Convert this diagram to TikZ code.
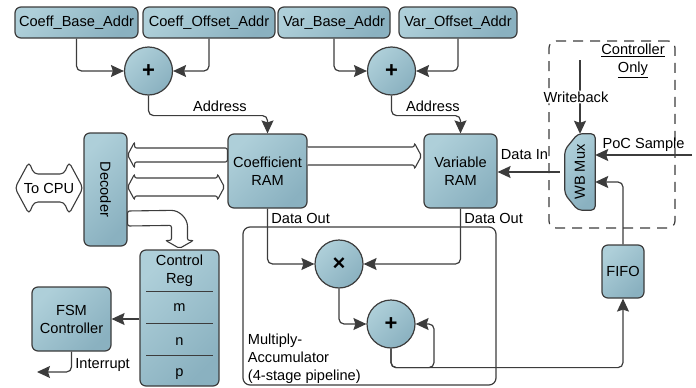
\documentclass[tikz,border=0pt]{standalone}
\usepackage{fontspec}
\setmainfont{Liberation Sans}
\usetikzlibrary{positioning, arrows.meta, calc, backgrounds}
\definecolor{boxlight}{HTML}{AECFD9}
\definecolor{boxdark}{HTML}{8AB1C0}
\definecolor{edge}{HTML}{3C3C3C}

\begin{document}
\begin{tikzpicture}[
  x=1pt, y=1pt,
  font=\fontsize{14.6}{18}\selectfont,
  box/.style={
    rectangle, rounded corners=6pt, draw=edge, line width=1.2pt,
    top color=boxlight, bottom color=boxdark, shading angle=45,
    align=center, inner sep=2pt
  },
  adder/.style={
    circle, draw=edge, line width=1.2pt, minimum size=48pt, inner sep=0pt,
    top color=boxlight, bottom color=boxdark, shading angle=45,
    font=\fontsize{22}{22}\selectfont\bfseries
  },
  region/.style={draw=edge, line width=1.2pt, rounded corners=7pt},
  arr/.style={-{Stealth[length=13pt, width=12pt, inset=2pt]}, line width=1.2pt,
    draw=edge, rounded corners=5pt},
  bus/.style={draw=edge, fill=white, line width=1.1pt, rounded corners=2pt},
  lbl/.style={text=black},
]
\useasboundingbox (0,0) rectangle (696,-388);

% address registers and adders
\node[box, minimum width=123pt, minimum height=31pt] (cba) at (76.5,-22.5) {Coeff\_Base\_Addr};
\node[box, minimum width=132pt, minimum height=31pt] (coa) at (209,-22.5) {Coeff\_Offset\_Addr};
\node[box, minimum width=112pt, minimum height=31pt] (vba) at (334,-22.5) {Var\_Base\_Addr};
\node[box, minimum width=118pt, minimum height=31pt] (voa) at (458,-22.5) {Var\_Offset\_Addr};
\node[adder] (add1) at (148.5,-71) {+};
\node[adder] (add2) at (391.5,-71) {+};

% memories
\node[box, minimum width=79pt, minimum height=74pt] (cram) at (267.5,-171) {Coefficient\\RAM};
\node[box, minimum width=73pt, minimum height=74pt] (vram) at (460.5,-171) {Variable\\RAM};

% host side
\node[lbl] (cpu) at (49,-188) {To CPU};
\node[box, minimum width=43pt, minimum height=113pt] (dec) at (105.5,-189.5) {\rotatebox{-90}{Decoder}};
\node[box, minimum width=79pt, minimum height=64pt] (fsm) at (71.5,-319) {FSM\\Controller};
\node[box, minimum width=79pt, minimum height=136pt] (creg) at (179.5,-318) {};
\node[lbl, align=center] (cregt) at ($(creg.north)+(0,-21.5)$) {Control\\Reg};
\node[lbl] (fm) at ($(creg.north)+(0,-58)$) {m};
\node[lbl] (fn) at ($(creg.north)+(0,-92)$) {n};
\node[lbl] (fp) at ($(creg.north)+(0,-125)$) {p};
\foreach \y in {42,74,106}
  \draw[edge, line width=1.1pt] ($(creg.north west)+(7,-\y)$) -- ($(creg.north east)+(-7,-\y)$);

% multiply-accumulator
\node[region, minimum width=253pt, minimum height=158pt] (mac) at (369.5,-306) {};
\node[lbl, align=left, anchor=west] (maclbl) at ($(mac.south west)+(2,27)$)
  {Multiply-\\Accumulator\\(4-stage pipeline)};
\node[adder] (mul) at (339,-264) {×};
\node[adder] (acc) at (391,-324) {+};
\node[box, minimum width=42pt, minimum height=53pt] (fifo) at (623,-271.5) {FIFO};

% writeback
\node[region, dash pattern=on 10pt off 7pt, minimum width=126pt, minimum height=187pt] (ctrl) at (612,-134.5) {};
\node[lbl, align=center] (ctrllbl) at (633,-61) {\underline{Controller}\\\underline{Only}};
\node[inner sep=0pt, minimum width=30pt, minimum height=76pt] (mux) at (580,-172) {\rotatebox{90}{WB Mux}};
\coordinate (wb) at (580,-60);
\coordinate (poc) at (692,-155);
\coordinate (irq) at (37,-372);

\begin{scope}[on background layer]
  \draw[bus, rounded corners=4pt] ($(cpu)+(-34,0)$) -- ++(14,26) -- ++(5,-12) -- ++(30,0) -- ++(5,12)
    -- ++(14,-26) -- ++(-14,-26) -- ++(-5,12) -- ++(-30,0) -- ++(-5,-12) -- cycle;
  \path[draw=edge, line width=1.2pt, rounded corners=4pt,
    top color=boxlight, bottom color=boxdark, shading angle=45]
    (mux.north east) -- (mux.south east) -- ($(mux.south west)+(13,0)$) -- ($(mux.south west)+(0,16)$)
    -- ($(mux.north west)+(0,-16)$) -- ($(mux.north west)+(13,0)$) -- cycle;
\end{scope}

% buses
\draw[bus] (dec.east |- 0,-155) -- ++(7,13) -- ++(0,-6) -- (cram.west |- 0,-148)
  -- (cram.west |- 0,-162) -- ($(dec.east |- 0,-162)+(7,0)$) -- ++(0,-6) -- cycle;
\draw[bus] (dec.east |- 0,-187) -- ++(7,13) -- ++(0,-4) -- ($(cram.west |- 0,-178)+(-10,0)$) -- ++(0,4)
  -- ($(cram.west |- 0,-187)+(-3,0)$) -- ++(-7,-13) -- ++(0,4) -- ($(dec.east |- 0,-196)+(7,0)$)
  -- ++(0,-4) -- cycle;
\draw[bus] (cram.east |- 0,-147) -- ($(vram.west |- 0,-147)+(-9,0)$) -- ++(0,4)
  -- ($(vram.west |- 0,-156)+(-2,0)$) -- ++(-7,-13) -- ++(0,4) -- (cram.east |- 0,-165);
\draw[bus] (dec.east |- 0,-211) -- ($(creg.north)+(-10,39)$) to[out=0, in=90] ($(creg.north)+(8,21)$)
  -- ($(creg.north)+(8,9)$) -- ($(creg.north)+(14,9)$) -- ($(creg.north)+(0,1)$)
  -- ($(creg.north)+(-14,9)$) -- ($(creg.north)+(-8,9)$) -- ($(creg.north)+(-8,24)$)
  -- (dec.east |- 0,-226) -- cycle;

% address paths
\draw[arr] (cba.south) |- (add1.west);
\draw[arr] (coa.south) |- (add1.east);
\draw[arr] (vba.south) |- (add2.west);
\draw[arr] (voa.south) |- (add2.east);
\draw[arr] (add1.south) -- ++(0,-20) -| (cram.north) node[lbl, above, pos=0.3] {Address};
\draw[arr] (add2.south) -- ++(0,-20) -| (vram.north) node[lbl, above, pos=0.3] {Address};

% datapath
\draw[arr] (cram.south) |- (mul.west) node[lbl, right, pos=0.09] {Data Out};
\draw[arr] (vram.south) |- (mul.east) node[lbl, right, pos=0.09] {Data Out};
\draw[arr] (mul.south) |- (acc.west);
\draw[arr] (acc.south) -- ++(0,-19) -| (fifo.south);
\draw[arr] (acc.south) |- ++(43,-19) |- (acc.east);
\draw[arr] (fifo.north) |- ($(mux.east)+(0,-10)$);
\draw[arr] (poc) -- (mux.east |- poc) node[lbl, above, midway] {PoC Sample};
\draw[arr, shorten <=5pt] (mux.west) -- (vram.east |- mux.west) node[lbl, above=8pt, pos=0.6] {Data In};
\draw[arr] (wb) -- (mux.north) node[lbl, midway, fill=white, inner sep=1pt, xshift=-4pt] {Writeback};

% control
\draw[arr] (creg.west |- fsm.east) -- (fsm.east);
\draw[arr] (fsm.south) |- (irq) node[lbl, right, pos=0.33] {Interrupt};

\end{tikzpicture}
\end{document}
